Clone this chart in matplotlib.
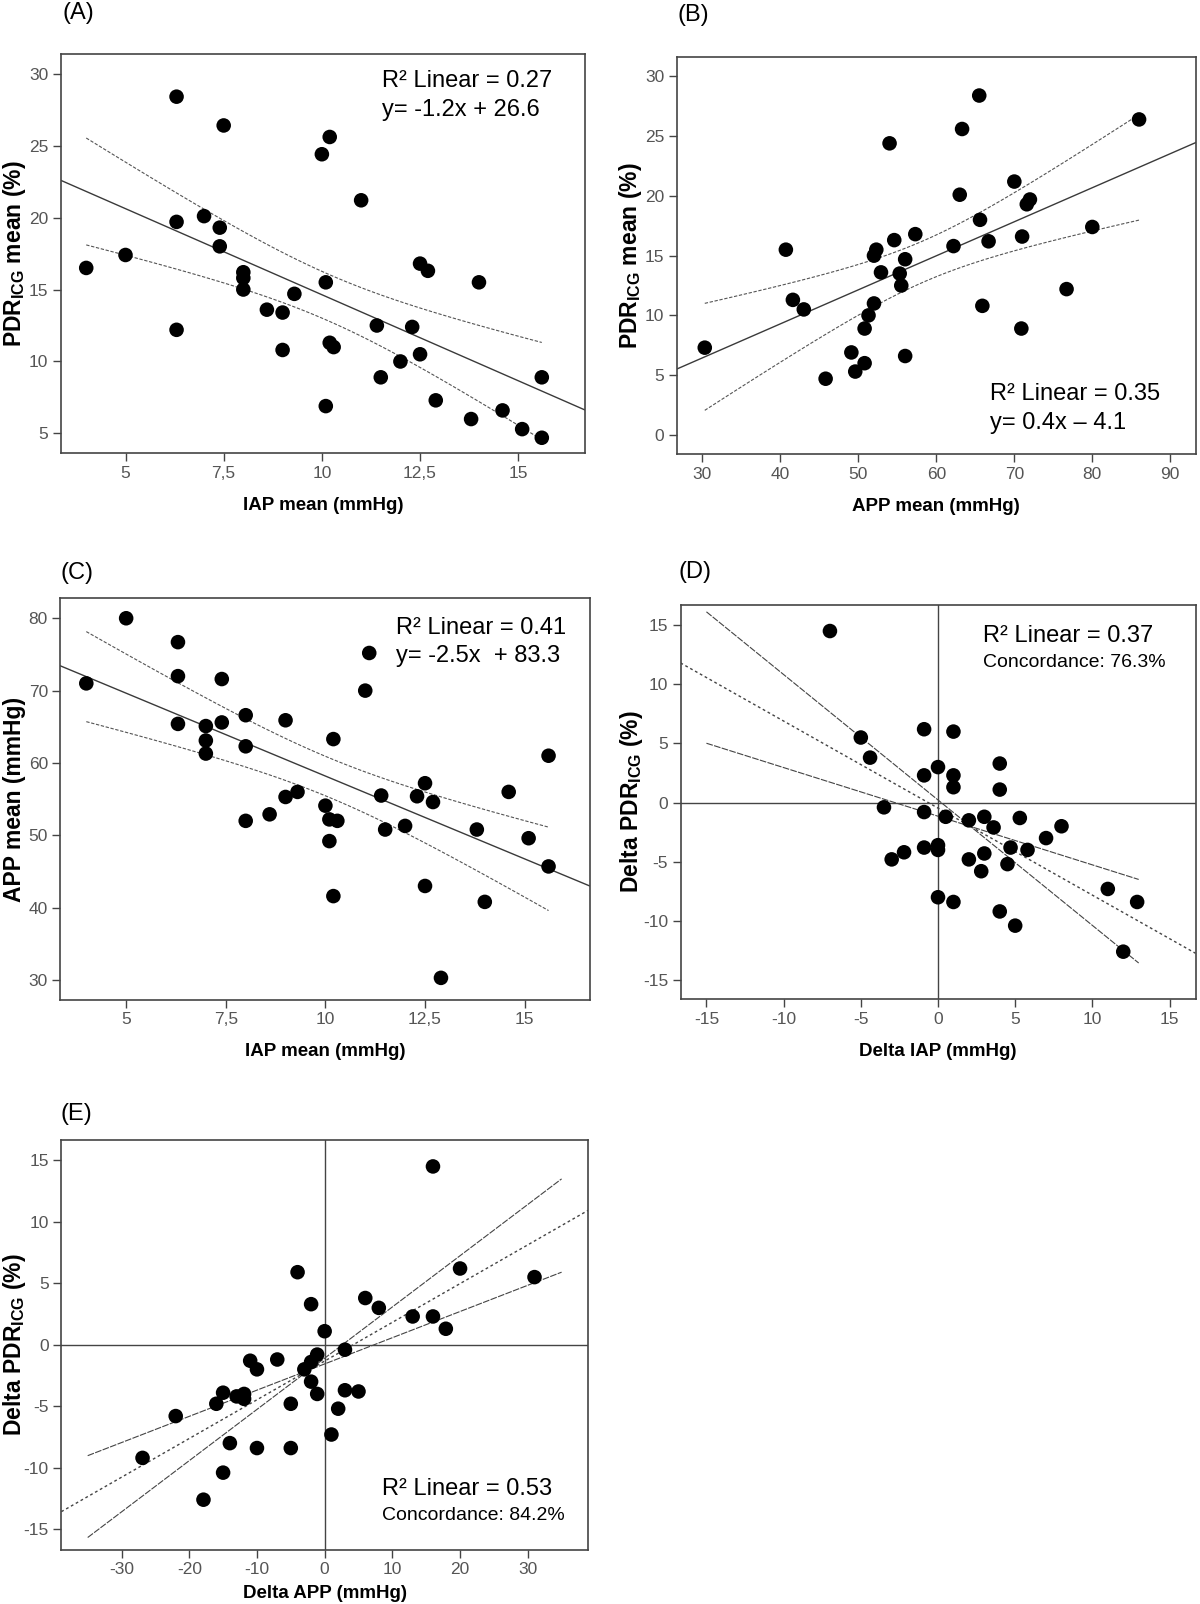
import numpy as np
import matplotlib
matplotlib.use("Agg")
import matplotlib.pyplot as plt

plt.rcParams['font.family'] = ['Liberation Sans', 'DejaVu Sans']
plt.rcParams['mathtext.fontset'] = 'custom'
plt.rcParams['mathtext.bf'] = 'Liberation Sans:bold'
plt.rcParams['mathtext.rm'] = 'Liberation Sans'
plt.rcParams['axes.unicode_minus'] = False

# ---- data ----
# (A) IAP mean vs PDR_ICG mean
a_iap = [4.0, 5.0, 6.3, 6.3, 6.3, 7.0, 7.5, 7.4, 7.4, 8.0, 8.0, 8.0, 8.6, 9.0, 9.0, 9.3,
         10.0, 10.2, 10.1, 10.2, 10.3, 10.1, 11.0, 11.4, 11.5, 12.0, 12.3, 12.5, 12.5,
         12.7, 12.9, 13.8, 14.0, 14.6, 15.1, 15.6, 15.6]
a_pdr = [16.5, 17.4, 28.4, 19.7, 12.2, 20.1, 26.4, 19.3, 18.0, 16.2, 15.8, 15.0, 13.6, 13.4,
         10.8, 14.7, 24.4, 25.6, 15.5, 11.3, 11.0, 6.9, 21.2, 12.5, 8.9, 10.0, 12.4, 10.5,
         16.8, 16.3, 7.3, 6.0, 15.5, 6.6, 5.3, 8.9, 4.7]

# (B) APP mean vs PDR_ICG mean
b_app = [30.3, 40.7, 41.6, 43.0, 45.8, 49.1, 49.6, 50.8, 50.8, 51.3, 52.0, 52.0, 52.3, 52.9,
         54.0, 54.6, 55.3, 55.5, 56.0, 56.0, 57.3, 62.2, 63.0, 63.3, 65.5, 65.6, 65.9, 66.7,
         70.0, 71.0, 70.9, 71.6, 72.0, 76.7, 80.0, 86.0]
b_pdr = [7.3, 15.5, 11.3, 10.5, 4.7, 6.9, 5.3, 6.0, 8.9, 10.0, 11.0, 15.0, 15.5, 13.6,
         24.4, 16.3, 13.5, 12.5, 14.7, 6.6, 16.8, 15.8, 20.1, 25.6, 28.4, 18.0, 10.8, 16.2,
         21.2, 16.6, 8.9, 19.3, 19.7, 12.2, 17.4, 26.4]

# (C) IAP mean vs APP mean
c_iap = [4.0, 5.0, 6.3, 6.3, 6.3, 7.0, 7.0, 7.0, 7.4, 7.4, 8.0, 8.0, 8.0, 8.6, 9.0, 9.0,
         9.3, 10.0, 10.1, 10.1, 10.2, 10.3, 10.2, 11.0, 11.1, 11.4, 11.5, 12.0, 12.3, 12.5,
         12.7, 12.5, 12.9, 13.8, 14.0, 14.6, 15.1, 15.6, 15.6]
c_app = [71.0, 80.0, 76.7, 72.0, 65.4, 65.1, 63.1, 61.3, 71.6, 65.6, 66.6, 62.3, 52.0, 52.9,
         65.9, 55.3, 56.0, 54.1, 52.2, 49.2, 63.3, 52.0, 41.6, 70.0, 75.2, 55.5, 50.8, 51.3,
         55.4, 57.2, 54.6, 43.0, 30.3, 50.8, 40.8, 56.0, 49.6, 61.0, 45.7]

# (D) Delta IAP vs Delta PDR_ICG
d_iap = [-7.0, -5.0, -4.4, -3.5, -3.0, -2.2, -0.9, -0.9, -0.9, -0.9, 0.0, 0.0, 0.0, 0.0,
         0.5, 1.0, 1.0, 1.0, 1.0, 2.0, 2.0, 2.8, 3.0, 3.0, 3.6, 4.0, 4.0, 4.0, 4.5, 4.7,
         5.0, 5.3, 5.8, 7.0, 8.0, 11.0, 12.0, 12.9]
d_pdr = [14.5, 5.5, 3.8, -0.4, -4.8, -4.2, 6.2, 2.3, -0.8, -3.8, 3.0, -3.6, -4.0, -8.0,
         -1.2, 6.0, 2.3, 1.3, -8.4, -1.5, -4.8, -5.8, -1.2, -4.3, -2.1, 3.3, 1.1, -9.2,
         -5.2, -3.8, -10.4, -1.3, -4.0, -3.0, -2.0, -7.3, -12.6, -8.4]

# (E) Delta APP vs Delta PDR_ICG
e_app = [-26.9, -22.0, -17.9, -16.0, -15.0, -15.0, -14.0, -13.0, -11.9, -11.9, -11.0, -10.0,
         -10.0, -7.0, -5.0, -5.0, -4.0, -3.0, -2.0, -2.0, -2.0, -1.1, -1.1, 0.0, 1.0, 2.0,
         3.0, 3.0, 5.0, 6.0, 8.0, 13.0, 16.0, 16.0, 17.9, 20.0, 31.0]
e_pdr = [-9.2, -5.8, -12.6, -4.8, -3.9, -10.4, -8.0, -4.2, -4.0, -4.4, -1.3, -2.0, -8.4,
         -1.2, -4.8, -8.4, 5.9, -2.0, 3.3, -1.4, -3.0, -0.8, -4.0, 1.1, -7.3, -5.2, -0.4,
         -3.7, -3.8, 3.8, 3.0, 2.3, 14.5, 2.3, 1.3, 6.2, 5.5]

d_slope_range = [-15, 13]
e_slope_range = [-35, 35]

T95 = 2.03  # t quantile, df ~ 36

W, H = 1200, 1604
fig = plt.figure(figsize=(W / 100, H / 100), dpi=100)

GRAY = '#444444'


def make_axes(l, t, r, b):
    ax = fig.add_axes([l / W, 1 - b / H, (r - l) / W, (b - t) / H])
    for s in ax.spines.values():
        s.set_color(GRAY)
        s.set_linewidth(1.2)
    ax.tick_params(direction='out', length=6, width=1.0, color=GRAY,
                   labelcolor='#555555', labelsize=12.5, pad=3)
    return ax, (l, t, r, b)


def labels(ax, box, xl, yl, xl_y, yl_x):
    l, t, r, b = box
    ax.set_xlabel(xl, fontsize=13.5, fontweight='bold', va='center')
    ax.set_ylabel(yl, fontsize=16.5, fontweight='bold', va='center')
    ax.xaxis.set_label_coords(0.5, -(xl_y - b) / (b - t))
    ax.yaxis.set_label_coords(-(l - yl_x) / (r - l), 0.5)


def ols(x, y):
    x = np.asarray(x); y = np.asarray(y)
    slope, icpt = np.polyfit(x, y, 1)
    res = y - (slope * x + icpt)
    n = len(x)
    s = np.sqrt(np.sum(res ** 2) / (n - 2))
    sxx = np.sum((x - x.mean()) ** 2)
    return slope, icpt, s, sxx, n, x.mean(), y.mean()


def fit_with_band(ax, x, y, xlim):
    slope, icpt, s, sxx, n, xm, ym = ols(x, y)
    xx = np.linspace(xlim[0], xlim[1], 2)
    ax.plot(xx, slope * xx + icpt, color='#3a3a3a', lw=1.0, zorder=2)
    xg = np.linspace(min(x), max(x), 100)
    half = T95 * s * np.sqrt(1 / n + (xg - xm) ** 2 / sxx)
    for sign in (1, -1):
        ax.plot(xg, slope * xg + icpt + sign * half, color='#555555', lw=0.8,
                ls=(0, (3, 1.5)), zorder=2)


def fit_with_slope_ci(ax, x, y, xlim, rng):
    slope, icpt, s, sxx, n, xm, ym = ols(x, y)
    se = s / np.sqrt(sxx)
    xx = np.linspace(xlim[0], xlim[1], 2)
    ax.plot(xx, slope * xx + icpt, color='#444444', lw=1.0, ls=(0, (2, 2)), zorder=2)
    xr = np.array(rng, dtype=float)
    for sl in (slope + T95 * se, slope - T95 * se):
        ax.plot(xr, ym + sl * (xr - xm), color='#444444', lw=0.8,
                ls=(0, (6, 1.2)), zorder=2)
    ax.axhline(0, color=GRAY, lw=1.0, zorder=1)
    ax.axvline(0, color=GRAY, lw=1.0, zorder=1)


def annot(ax, box, x_px, y1_px, y2_px, line1, line2, size2):
    l, t, r, b = box
    ax.text((x_px - l) / (r - l), (b - y1_px) / (b - t), line1, transform=ax.transAxes,
            fontsize=17, va='center', ha='left')
    ax.text((x_px - l) / (r - l), (b - y2_px) / (b - t), line2, transform=ax.transAxes,
            fontsize=size2, va='center', ha='left')


def dots(ax, x, y):
    ax.scatter(x, y, s=110, color='black', edgecolors='none', zorder=3)


iap_ticks = [5, 7.5, 10, 12.5, 15]
iap_ticklabels = ['5', '7,5', '10', '12,5', '15']
pdr_label = r'PDR$_{\mathbf{ICG}}$ mean (%)'
dpdr_label = r'Delta PDR$_{\mathbf{ICG}}$ (%)'

# (A)
ax, box = make_axes(60.7, 53.5, 585, 453.3)
xlim = (3.35, 16.7)
dots(ax, a_iap, a_pdr)
fit_with_band(ax, a_iap, a_pdr, xlim)
ax.set_xlim(xlim); ax.set_ylim(3.62, 31.4)
ax.set_xticks(iap_ticks); ax.set_xticklabels(iap_ticklabels)
ax.set_yticks(range(5, 31, 5))
labels(ax, box, 'IAP mean (mmHg)', pdr_label, 505, 15)
annot(ax, box, 382, 81, 109.5, 'R² Linear = 0.27', 'y= -1.2x + 26.6', 17)

# (B)
ax, box = make_axes(676.7, 57.3, 1196, 454)
xlim = (26.7, 93.3)
dots(ax, b_app, b_pdr)
fit_with_band(ax, b_app, b_pdr, xlim)
ax.set_xlim(xlim); ax.set_ylim(-1.6, 31.6)
ax.set_xticks(range(30, 91, 10))
ax.set_yticks(range(0, 31, 5))
labels(ax, box, 'APP mean (mmHg)', pdr_label, 506, 631)
annot(ax, box, 989.6, 394, 422.6, 'R² Linear = 0.35', 'y= 0.4x – 4.1', 17)

# (C)
ax, box = make_axes(60.4, 598, 590, 1000)
xlim = (3.35, 16.64)
dots(ax, c_iap, c_app)
fit_with_band(ax, c_iap, c_app, xlim)
ax.set_xlim(xlim); ax.set_ylim(27.24, 82.8)
ax.set_xticks(iap_ticks); ax.set_xticklabels(iap_ticklabels)
ax.set_yticks(range(30, 81, 10))
labels(ax, box, 'IAP mean (mmHg)', 'APP mean (mmHg)', 1051, 15)
annot(ax, box, 396, 628.2, 656.2, 'R² Linear = 0.41', 'y= -2.5x  + 83.3', 17)

# (D)
ax, box = make_axes(680.5, 605, 1195.5, 999)
xlim = (-16.68, 16.68)
dots(ax, d_iap, d_pdr)
fit_with_slope_ci(ax, d_iap, d_pdr, xlim, d_slope_range)
ax.set_xlim(xlim); ax.set_ylim(-16.6, 16.7)
ax.set_xticks(range(-15, 16, 5))
ax.set_yticks(range(-15, 16, 5))
labels(ax, box, 'Delta IAP (mmHg)', dpdr_label, 1051, 631)
annot(ax, box, 983, 636, 662, 'R² Linear = 0.37', 'Concordance: 76.3%', 14)

# (E)
ax, box = make_axes(61.3, 1140, 588, 1549.5)
xlim = (-38.9, 38.9)
dots(ax, e_app, e_pdr)
fit_with_slope_ci(ax, e_app, e_pdr, xlim, e_slope_range)
ax.set_xlim(xlim); ax.set_ylim(-16.65, 16.65)
ax.set_xticks(range(-30, 31, 10))
ax.set_yticks(range(-15, 16, 5))
labels(ax, box, 'Delta APP (mmHg)', dpdr_label, 1593, 15)
annot(ax, box, 382, 1489, 1516, 'R² Linear = 0.53', 'Concordance: 84.2%', 14)

# panel letters
for txt, xp, yp in [('(A)', 62, 13), ('(B)', 678, 15), ('(C)', 61, 573),
                    ('(D)', 679, 572), ('(E)', 61, 1114)]:
    fig.text(xp / W, 1 - yp / H, txt, fontsize=17, ha='left', va='center')

fig.savefig('out.png', dpi=100)
